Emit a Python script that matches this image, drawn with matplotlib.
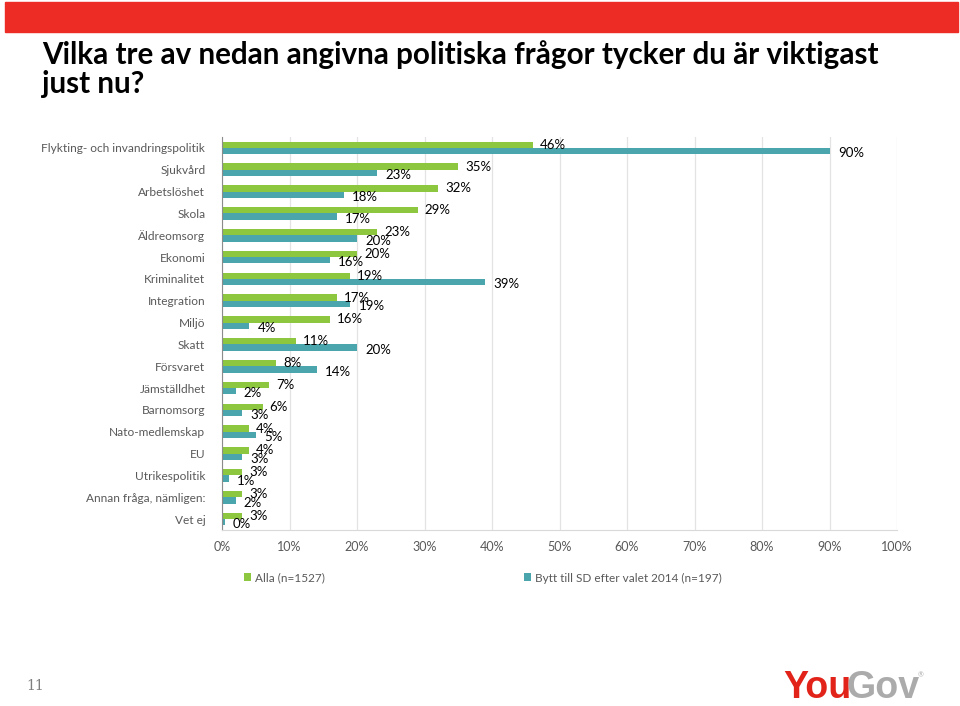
"""YouGov slide 11: which three political issues matter most right now."""

import numpy as np
import matplotlib.pyplot as plt
from matplotlib.patches import Rectangle

plt.rcParams["font.family"] = ["Lato", "DejaVu Sans"]

categories = [
    "Flykting- och invandringspolitik", "Sjukvård", "Arbetslöshet", "Skola",
    "Äldreomsorg", "Ekonomi", "Kriminalitet", "Integration", "Miljö", "Skatt",
    "Försvaret", "Jämställdhet", "Barnomsorg", "Nato-medlemskap", "EU",
    "Utrikespolitik", "Annan fråga, nämligen:", "Vet ej",
]
alla = [46, 35, 32, 29, 23, 20, 19, 17, 16, 11, 8, 7, 6, 4, 4, 3, 3, 3]
bytt_sd = [90, 23, 18, 17, 20, 16, 39, 19, 4, 20, 14, 2, 3, 5, 3, 1, 2, 0.4]
series_names = ["Alla (n=1527)", "Bytt till SD efter valet 2014 (n=197)"]
xticks = [0, 10, 20, 30, 40, 50, 60, 70, 80, 90, 100]

GREEN = "#8DC63F"
TEAL = "#4BA5AC"
GRAY_TXT = "#595959"

fig = plt.figure(figsize=(9.6, 7.06), dpi=100)

# red banner at the top of the slide
fig.patches.append(Rectangle((0.005, 1 - 32 / 706), 0.993, 30 / 706,
                             transform=fig.transFigure, color="#EC2C25"))
fig.text(42 / 960, 1 - 40 / 706,
         "Vilka tre av nedan angivna politiska frågor tycker du är viktigast\njust nu?",
         fontsize=21.3, fontweight="bold", va="top", ha="left",
         linespacing=1.03, color="black")

ax = fig.add_axes([222 / 960, 1 - 530 / 706, 675 / 960, 393 / 706])
y = np.arange(len(categories))
h = 0.29
ax.barh(y - h / 2, alla, height=h, color=GREEN, label=series_names[0])
ax.barh(y + h / 2, bytt_sd, height=h, color=TEAL, label=series_names[1])

for yi, a, b in zip(y, alla, bytt_sd):
    ax.annotate(f"{round(a)}%", (a, yi - h / 2), xytext=(5, 0),
                textcoords="offset points", va="center", ha="left",
                fontsize=9.5, color="black")
    ax.annotate(f"{round(b)}%", (b, yi + h / 2 + 0.1), xytext=(6, 0),
                textcoords="offset points", va="center", ha="left",
                fontsize=9.5, color="black")

ax.set_xlim(0, 100)
ax.set_ylim(len(categories) - 0.5, -0.5)
ax.set_xticks(xticks)
ax.set_xticklabels([f"{t}%" for t in xticks])
ax.set_yticks(y)
ax.set_yticklabels(categories)
ax.tick_params(axis="both", length=0, labelcolor=GRAY_TXT)
ax.tick_params(axis="y", pad=12, labelsize=8.6)
ax.tick_params(axis="x", pad=8, labelsize=9)
ax.grid(axis="x", color="#E3E3E3", linewidth=0.9)
ax.set_axisbelow(True)
for s in ["top", "right"]:
    ax.spines[s].set_visible(False)
ax.spines["left"].set_color("#8C8C8C")
ax.spines["bottom"].set_color("#D9D9D9")

handles, labels = ax.get_legend_handles_labels()
fig.legend(handles, labels, loc="center left",
           bbox_to_anchor=(233 / 960, 1 - 578 / 706), ncol=2, frameon=False,
           handlelength=0.65, handleheight=0.65, handletextpad=0.35,
           columnspacing=16.8, fontsize=8.5, labelcolor=GRAY_TXT)

# slide number and logo
fig.text(35 / 960, 1 - 686 / 706, "11", fontsize=10, color="#7F7F7F",
         family="DejaVu Serif", ha="center", va="center")
fig.text(783 / 960, 1 - 688 / 706, "You", fontsize=27, fontweight="bold",
         color="#E2231A", family="Liberation Sans", ha="left", va="center")
fig.text(846 / 960, 1 - 688 / 706, "Gov", fontsize=27, fontweight="bold",
         color="#ABABAB", family="Liberation Sans", ha="left", va="center")
fig.text(918 / 960, 1 - 675 / 706, "®", fontsize=5, color="#ABABAB",
         ha="left", va="center")

fig.savefig("out.png", dpi=100)
